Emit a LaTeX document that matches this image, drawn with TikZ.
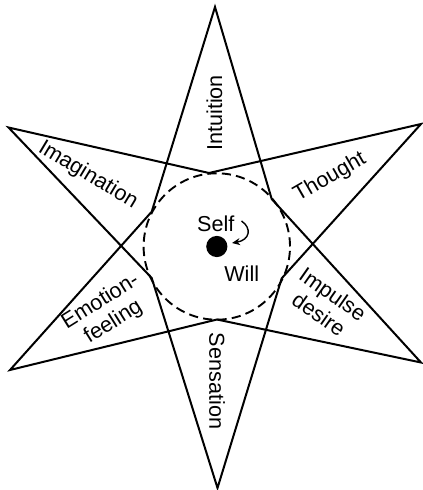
\documentclass[tikz,border=0pt]{standalone}
\usepackage{fontspec}
\setmainfont{Liberation Sans}
\usetikzlibrary{arrows.meta}
\begin{document}
\begin{tikzpicture}[x=0.5pt,y=-0.5pt,
  edge/.style={line width=1pt, line join=miter},
  ring/.style={line width=0.95pt, dash pattern=on 4.6pt off 2.6pt},
  lbl/.style={font=\fontsize{10.8}{12.2}\selectfont, align=center, inner sep=0pt}]
\useasboundingbox (0,0) rectangle (422,490);
% outer tips
\coordinate (T)  at (215,7);
\coordinate (UR) at (421,124);
\coordinate (LR) at (421,362.5);
\coordinate (Bo) at (217.5,488);
\coordinate (LL) at (10,370);
\coordinate (UL) at (8.5,127.5);
% inner vertices on the circle
\coordinate (Ti) at (209,173);
\coordinate (Bi) at (217,319.5);
\coordinate (A)  at (151.7,211.7);
\coordinate (B)  at (151.7,278);
\coordinate (C)  at (271.7,199);
\coordinate (D)  at (281.7,278.3);
\coordinate (O)  at (216.8,246.5);
% star
\draw[edge] (T) -- (A) -- (LL) -- (Bi) -- (LR) -- (C) -- cycle;
\draw[edge] (Bo) -- (B) -- (UL) -- (Ti) -- (UR) -- (D) -- cycle;
% circle and dot
\draw[ring] (O) circle (36.6pt);
\fill (O) circle (5.3pt);
% labels
\node[lbl, rotate=90]  (intu) at (214.5,113) {Intuition};
\node[lbl, rotate=-90] (sens) at (217,381) {Sensation};
\node[lbl, rotate=-31] (imag) at (88,175) {Imagination};
\node[lbl, rotate=30]  (thou) at (330,177) {Thought};
\node[lbl, rotate=32]  (emot) at (107,312) {Emotion-\\feeling};
\node[lbl, rotate=-35] (impu) at (326,304) {Impulse\\desire};
\node[lbl] (self) at (215.7,223.5) {Self};
\node[lbl] (will) at (241.7,273.5) {Will};
% arrow
\coordinate (a0) at (241.5,221);
\coordinate (a1) at (232,243);
\draw[line width=0.7pt, -{Stealth[length=4pt,width=3.5pt]}] (a0) .. controls (252,228) and (250,240) .. (a1);
\end{tikzpicture}
\end{document}
